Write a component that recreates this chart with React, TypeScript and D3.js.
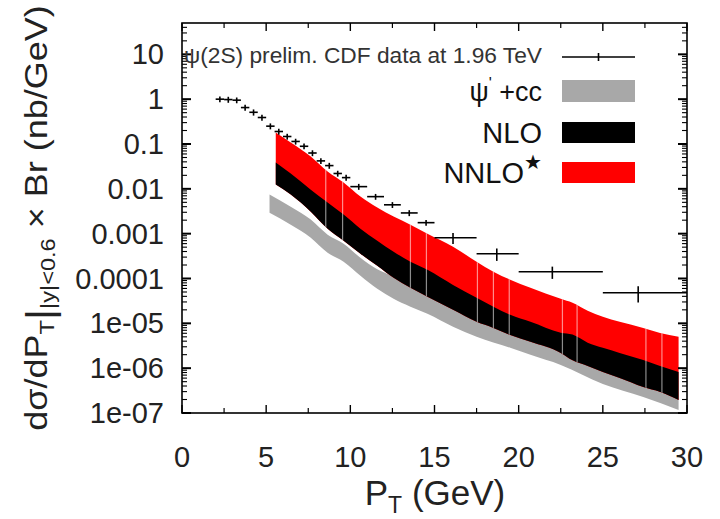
import React from "react";
import * as d3 from "d3";

// ---- CDF psi(2S) data ----
const dataPt = [2.25, 2.75, 3.25, 3.75, 4.25, 4.75, 5.25, 5.75, 6.25, 6.75, 7.25, 7.75, 8.25, 8.75, 9.25, 9.75, 10.5, 11.5, 12.5, 13.5, 14.5, 16.1, 18.7, 22.0, 27.1];
const dataVal = [1.0, 0.98, 0.95, 0.65, 0.51, 0.39, 0.25, 0.19, 0.147, 0.114, 0.089, 0.063, 0.042, 0.033, 0.022, 0.0178, 0.0112, 0.0067, 0.0044, 0.0029, 0.00176, 8.1e-4, 3.57e-4, 1.41e-4, 4.8e-5];
const dataErr = [0.15, 0.15, 0.14, 0.1, 0.08, 0.06, 0.038, 0.029, 0.022, 0.017, 0.013, 0.0095, 0.0063, 0.005, 0.0033, 0.0027, 0.0017, 0.001, 0.00066, 0.00044, 0.00026, 2.2e-4, 1.1e-4, 4.3e-5, 1.9e-5];
const binLo = [2, 2.5, 3, 3.5, 4, 4.5, 5, 5.5, 6, 6.5, 7, 7.5, 8, 8.5, 9, 9.5, 10, 11, 12, 13, 14, 15, 17.5, 20, 25];
const binHi = [2.5, 3, 3.5, 4, 4.5, 5, 5.5, 6, 6.5, 7, 7.5, 8, 8.5, 9, 9.5, 10, 11, 12, 13, 14, 15, 17.5, 20, 25, 30];

// ---- NLO / NNLO* bands ----
const bandPt = [5.57, 6.46, 7.65, 8.65, 9.6, 10.6, 11.6, 12.57, 13.57, 14.58, 16.1, 17.5, 18.5, 19.5, 20.7, 22.5, 23.2, 24.1, 25, 26, 27.4, 28.4, 29.5];
const nnloHi = [0.181, 0.108, 0.0526, 0.0243, 0.0138, 0.00671, 0.00381, 0.0024, 0.00159, 0.001, 5.12e-4, 2.37e-4, 1.42e-4, 9.4e-5, 6.2e-5, 3.52e-5, 2.87e-5, 1.9e-5, 1.4e-5, 1.08e-5, 7.9e-6, 6.1e-6, 5.0e-6];
const nloHi = [0.0386, 0.0219, 0.0096, 0.00493, 0.00266, 0.00129, 6.98e-4, 3.96e-4, 2.37e-4, 1.57e-4, 7.2e-5, 3.7e-5, 2.34e-5, 1.55e-5, 1.08e-5, 6.2e-6, 5.6e-6, 3.7e-6, 2.84e-6, 2.19e-6, 1.53e-6, 1.12e-6, 8.2e-7];
const nloLo = [0.01245, 0.00745, 0.0031, 0.00129, 6.98e-4, 3.57e-4, 1.93e-4, 1.04e-4, 6.2e-5, 3.9e-5, 2.0e-5, 1.08e-5, 7.9e-6, 5.5e-6, 3.87e-6, 2.19e-6, 1.5e-6, 1.12e-6, 8.2e-7, 6.05e-7, 3.8e-7, 2.94e-7, 1.95e-7];

// ---- psi' + cc band ----
const cdPt = [5.2, 6.46, 7.65, 8.65, 9.6, 10.6, 11.6, 12.57, 13.57, 14.58, 16.1, 17.5, 19.5, 20.7, 22.5, 25, 27.4, 29.5];
const cdHi = [7.45e-3, 4.0e-3, 2.06e-3, 9.5e-4, 5.98e-4, 2.91e-4, 1.6e-4, 1.1e-4, 6.5e-5, 4.1e-5, 2.1e-5, 1.15e-5, 5.8e-6, 4.1e-6, 2.3e-6, 8.6e-7, 4.0e-7, 2.05e-7];
const cdLo = [2.94e-3, 1.59e-3, 8.15e-4, 3.76e-4, 2.37e-4, 1.15e-4, 5.9e-5, 3.52e-5, 2.34e-5, 1.63e-5, 8.4e-6, 5.0e-6, 2.84e-6, 1.98e-6, 1.18e-6, 4.45e-7, 2.28e-7, 1.17e-7];

// light seams inside the theory bands
const seamPt = [8.54, 9.54, 13.57, 14.52, 17.55, 18.5, 19.44, 22.6, 23.47, 27.56, 28.51];

// ---- axes ----
const xTicks = [0, 5, 10, 15, 20, 25, 30];
const xMinor = [2.5, 7.5, 12.5, 17.5, 22.5, 27.5];
const yTicks = [1e-7, 1e-6, 1e-5, 1e-4, 1e-3, 1e-2, 1e-1, 1, 10];
const yTickLabels = ["1e-07", "1e-06", "1e-05", "0.0001", "0.001", "0.01", "0.1", "1", "10"];

const FONT = "'Liberation Sans', Arial, Helvetica, sans-serif";

export default function App() {
  const L = 182, R = 687, T = 23, B = 413;
  const x = d3.scaleLinear().domain([0, 30]).range([L, R]);
  const y = d3.scaleLog().domain([1e-7, 50]).range([B, T]);

  const band = (pts: number[], lo: number[], hi: number[]) =>
    d3
      .area<number>()
      .x((_, i) => x(pts[i]))
      .y0((_, i) => y(lo[i]))
      .y1((_, i) => y(hi[i]))
      .curve(d3.curveMonotoneX)(pts) || "";

  const redPath = band(bandPt, nloLo, nnloHi);
  const blackPath = band(bandPt, nloLo, nloHi);
  const grayPath = band(cdPt, cdLo, cdHi);

  // minor y ticks
  const yMinor: number[] = [];
  for (let e = -7; e <= 1; e++) {
    for (let m = 2; m <= 9; m++) {
      const v = m * Math.pow(10, e);
      if (v < 50) yMinor.push(v);
    }
  }

  const legendX0 = 562, legendX1 = 635, legendTextX = 542;

  return (
    <svg
      width={720}
      height={519}
      style={{ position: "absolute", left: 0, top: 0, background: "#fff" }}
      fontFamily={FONT}
    >
      <rect x={0} y={0} width={720} height={519} fill="#fff" />
      <defs>
        <clipPath id="bandClip">
          <path d={redPath} />
        </clipPath>
        <clipPath id="plotClip">
          <rect x={L} y={T} width={R - L} height={B - T} />
        </clipPath>
      </defs>

      <g clipPath="url(#plotClip)">
        <path d={grayPath} fill="#a8a8a8" />
        <path d={redPath} fill="#ff0000" />
        <path d={blackPath} fill="#000" />
        <g clipPath="url(#bandClip)">
          {seamPt.map((p, i) => (
            <line key={i} x1={x(p)} x2={x(p)} y1={T} y2={B} stroke="rgba(255,255,255,0.55)" strokeWidth={1.2} />
          ))}
        </g>
        {/* data */}
        {dataPt.map((p, i) => (
          <g key={i} stroke="#000" strokeWidth={1.6}>
            <line x1={x(binLo[i])} x2={x(binHi[i])} y1={y(dataVal[i])} y2={y(dataVal[i])} />
            <line x1={x(p)} x2={x(p)} y1={y(dataVal[i] - dataErr[i])} y2={y(dataVal[i] + dataErr[i])} />
          </g>
        ))}
      </g>

      {/* frame */}
      <rect x={L} y={T} width={R - L} height={B - T} fill="none" stroke="#000" strokeWidth={1.6} />

      {/* x ticks */}
      {xTicks.map((t) => (
        <g key={"xt" + t} stroke="#000" strokeWidth={1.4}>
          <line x1={x(t)} x2={x(t)} y1={B} y2={B - 8} />
          <line x1={x(t)} x2={x(t)} y1={T} y2={T + 8} />
        </g>
      ))}
      {xMinor.map((t) => (
        <g key={"xm" + t} stroke="#000" strokeWidth={1.2}>
          <line x1={x(t)} x2={x(t)} y1={B} y2={B - 5} />
          <line x1={x(t)} x2={x(t)} y1={T} y2={T + 5} />
        </g>
      ))}
      {xTicks.map((t) => (
        <text key={"xl" + t} x={x(t)} y={467} fontSize={29} textAnchor="middle" fill="#222">
          {t}
        </text>
      ))}

      {/* y ticks */}
      {yTicks.map((t) => (
        <g key={"yt" + t} stroke="#000" strokeWidth={2}>
          <line x1={L} x2={L + 9} y1={y(t)} y2={y(t)} />
          <line x1={R} x2={R - 9} y1={y(t)} y2={y(t)} />
        </g>
      ))}
      {yMinor.map((t) => (
        <g key={"ym" + t} stroke="#000" strokeWidth={1.1}>
          <line x1={L} x2={L + 5} y1={y(t)} y2={y(t)} />
          <line x1={R} x2={R - 5} y1={y(t)} y2={y(t)} />
        </g>
      ))}
      {yTicks.map((t, i) => (
        <text key={"yl" + t} x={164} y={y(t) + 10} fontSize={29} textAnchor="end" fill="#222">
          {yTickLabels[i]}
        </text>
      ))}

      {/* axis titles */}
      <text x={435} y={505} fontSize={35} textAnchor="middle" fill="#222">
        P<tspan fontSize={23} dy={8}>T</tspan>
        <tspan dy={-8}> (GeV)</tspan>
      </text>
      <g transform="translate(47,218) rotate(-90) scale(1.125,1)">
        <text x={0} y={0} fontSize={32} textAnchor="middle" fill="#222">
          dσ/dP<tspan fontSize={21} dy={7}>T</tspan>
          <tspan fontSize={38} dy={-1}>|</tspan>
          <tspan fontSize={21} dy={2}>|y|&lt;0.6</tspan>
          <tspan dy={-8}> × Br (nb/GeV)</tspan>
        </text>
      </g>

      {/* legend */}
      <text x={legendTextX} y={63} fontSize={22} textAnchor="end" fill="#333" textLength={358} lengthAdjust="spacingAndGlyphs">
        ψ(2S) prelim. CDF data at 1.96 TeV
      </text>
      <line x1={legendX0} x2={legendX1} y1={57} y2={57} stroke="#000" strokeWidth={1.6} />
      <line x1={(legendX0 + legendX1) / 2} x2={(legendX0 + legendX1) / 2} y1={53} y2={61} stroke="#000" strokeWidth={1.6} />

      <text x={legendTextX} y={101} fontSize={27} textAnchor="end" fill="#111">
        ψ<tspan fontSize={16} dy={-12}>'</tspan>
        <tspan dy={12}> +cc</tspan>
      </text>
      <rect x={legendX0} y={80} width={legendX1 - legendX0} height={22} fill="#a8a8a8" />

      <text x={legendTextX} y={143} fontSize={29} textAnchor="end" fill="#111">
        NLO
      </text>
      <rect x={legendX0} y={122} width={legendX1 - legendX0} height={21} fill="#000" />

      <text x={legendTextX} y={183} fontSize={29} textAnchor="end" fill="#111">
        NNLO<tspan fontSize={20} dy={-14}>★</tspan>
      </text>
      <rect x={legendX0} y={162} width={legendX1 - legendX0} height={21} fill="#ff0000" />
    </svg>
  );
}
